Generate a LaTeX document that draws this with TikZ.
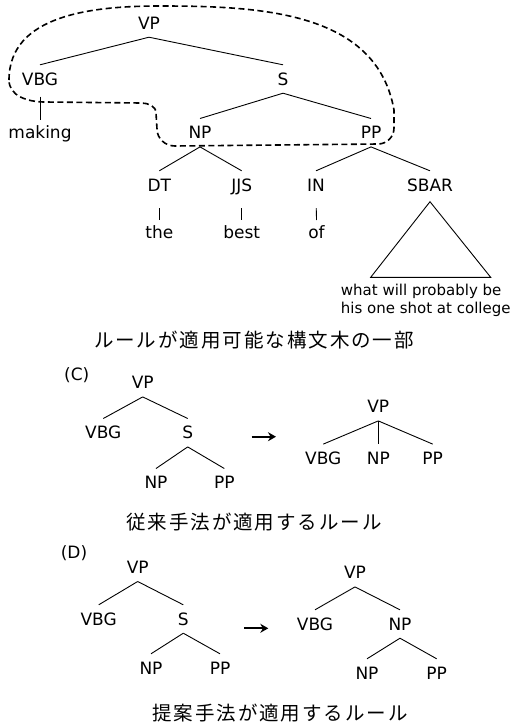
\documentclass[tikz,border=0pt]{standalone}
\usepackage{fontspec}
\setmainfont{DejaVu Sans}
\newfontfamily\jpfont[LetterSpace=10]{Noto Sans CJK JP}
\usetikzlibrary{arrows.meta}

\begin{document}
\begin{tikzpicture}[x=1pt,y=-1pt,
	lab/.style={font=\fontsize{17}{20}\selectfont, inner sep=0pt, outer ysep=8pt,
		text height=12.4pt, text depth=0pt},
	yieldtext/.style={font=\fontsize{15}{18.3}\selectfont, inner sep=0pt, align=left},
	caption/.style={font=\jpfont\fontsize{19.5}{22}\selectfont, inner sep=0pt},
	branch/.style={line width=0.9pt},
	leafline/.style={line width=0.9pt, shorten >=-1.7pt},
	rulearrow/.style={line width=2pt, -{Stealth[length=8pt,width=9pt]}}]
	\useasboundingbox (0,0) rectangle (518,726);
	% tree fragment
	\node[lab] (vp) at (149,23) {VP};
	\node[lab] (vbg) at (40,79) {VBG};
	\node[lab] (s) at (283,79) {S};
	\node[lab] (making) at (40,132.5) {making};
	\node[lab] (np) at (200,132.7) {NP};
	\node[lab] (pp) at (371,132.7) {PP};
	\node[lab] (dt) at (159.3,185) {DT};
	\node[lab] (jjs) at (241.7,185) {JJS};
	\node[lab] (in) at (316,185) {IN};
	\node[lab] (sbar) at (430,185) {SBAR};
	\node[lab] (the) at (159.3,232.5) {the};
	\node[lab] (best) at (241.7,232.5) {best};
	\node[lab] (of) at (316.5,232.5) {of};
	\node[yieldtext, anchor=base west] (yield) at (340.7,313.3)
		{what will probably be\\his one shot at college};
	\draw[branch] (vp.south) -- (vbg.north);
	\draw[branch] (vp.south) -- (s.north);
	\draw[branch] (s.south) -- (np.north);
	\draw[branch] (s.south) -- (pp.north);
	\draw[branch] (np.south) -- (dt.north);
	\draw[branch] (np.south) -- (jjs.north);
	\draw[branch] (pp.south) -- (in.north);
	\draw[branch] (pp.south) -- (sbar.north);
	\draw[leafline, shorten <=3.5pt] (vbg.south) -- (making.north);
	\draw[leafline, shorten <=9pt] (dt.south) -- (the.north);
	\draw[leafline, shorten <=9pt] (jjs.south) -- (best.north);
	\draw[leafline, shorten <=9pt] (in.south) -- (of.north);
	\coordinate (tritop) at ([yshift=-2.5pt]sbar.south);
	\coordinate (trileft) at (370.7,277.3);
	\coordinate (triright) at (490.7,277.3);
	\draw[branch] (tritop) -- (triright) -- (trileft) -- cycle;
	% region the rule applies to
	\draw[line width=1.6pt, dash pattern=on 6pt off 3.5pt]
		(9,80) to[out=90,in=180] (160,6) to[out=0,in=100] (394,110)
		-- (394,128) to[out=-90,in=0] (378,144) -- (175,146)
		to[out=180,in=-90] (157,129) -- (156,113) to[out=90,in=0] (141,103)
		-- (45,102) to[out=180,in=-90] (9,80);
	\node[caption] (cap1) at (254,340) {ルールが適用可能な構文木の一部};
	% (C)
	\node[lab] (clabel) at (76.7,374) {(C)};
	\node[lab] (cvp) at (142.7,382.7) {VP};
	\node[lab] (cvbg) at (103.3,432.7) {VBG};
	\node[lab] (cs) at (187.7,432.7) {S};
	\node[lab] (cnp) at (156,482.7) {NP};
	\node[lab] (cpp) at (224.3,482.7) {PP};
	\draw[branch] (cvp.south) -- (cvbg.north);
	\draw[branch] (cvp.south) -- (cs.north);
	\draw[branch] (cs.south) -- (cnp.north);
	\draw[branch] (cs.south) -- (cpp.north);
	\coordinate (carrowa) at (251.7,436.7);
	\coordinate (carrowb) at (276,436.7);
	\draw[rulearrow] (carrowa) -- (carrowb);
	\node[lab] (rvp) at (378.3,406.7) {VP};
	\node[lab] (rvbg) at (323.3,458.3) {VBG};
	\node[lab] (rnp) at (378.3,458.3) {NP};
	\node[lab] (rpp) at (432.7,458.3) {PP};
	\draw[branch] (rvp.south) -- (rvbg.north);
	\draw[branch] (rvp.south) -- (rnp.north);
	\draw[branch] (rvp.south) -- (rpp.north);
	\node[caption] (cap2) at (254,522.3) {従来手法が適用するルール};
	% (D)
	\node[lab] (dlabel) at (74,552.5) {(D)};
	\node[lab] (dvp) at (137.7,567.3) {VP};
	\node[lab] (dvbg) at (98.7,619) {VBG};
	\node[lab] (ds) at (183.3,619) {S};
	\node[lab] (dnp) at (151,668) {NP};
	\node[lab] (dpp) at (220,668) {PP};
	\draw[branch] (dvp.south) -- (dvbg.north);
	\draw[branch] (dvp.south) -- (ds.north);
	\draw[branch] (ds.south) -- (dnp.north);
	\draw[branch] (ds.south) -- (dpp.north);
	\coordinate (darrowa) at (244,628.3);
	\coordinate (darrowb) at (268.3,628.3);
	\draw[rulearrow] (darrowa) -- (darrowb);
	\node[lab] (evp) at (355,572.7) {VP};
	\node[lab] (evbg) at (315,624) {VBG};
	\node[lab] (enp) at (400,624) {NP};
	\node[lab] (enpb) at (367,673) {NP};
	\node[lab] (epp) at (436.7,673) {PP};
	\draw[branch] (evp.south) -- (evbg.north);
	\draw[branch] (evp.south) -- (enp.north);
	\draw[branch] (enp.south) -- (enpb.north);
	\draw[branch] (enp.south) -- (epp.north);
	\node[caption] (cap3) at (280,712.7) {提案手法が適用するルール};
\end{tikzpicture}
\end{document}
